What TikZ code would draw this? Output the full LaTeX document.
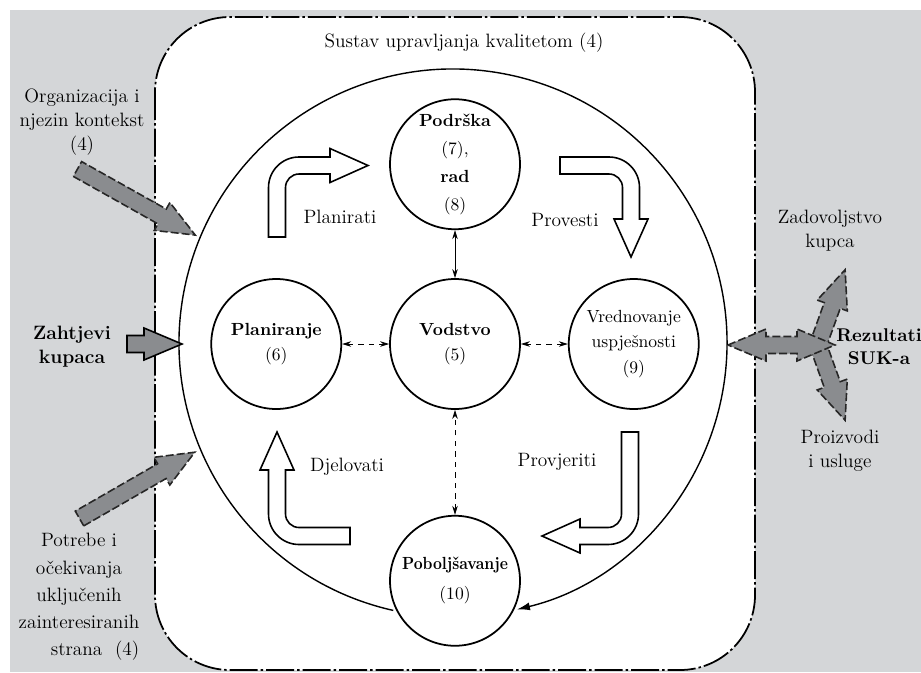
\documentclass[tikz,border=0pt]{standalone}
\usepackage{tikz}
\usetikzlibrary{arrows.meta, positioning}

\definecolor{panelgray}{RGB}{212,214,216}
\definecolor{arrowgray}{RGB}{138,140,143}

\tikzset{
    % hollow bent PDCA arrow: corner at origin, leg #1 from below, leg #2 to the right
    pics/bentarrow/.style 2 args={code={
        \draw[pdca arrow] (-8.5,-#1) -- (-8.5,-22) arc[start angle=180, end angle=90, radius=6.1mm]
            -- ({#2-38},8.5) -- ({#2-38},17) -- (#2,0) -- ({#2-38},-17) -- ({#2-38},-8.5)
            -- (22,-8.5) arc[start angle=90, end angle=180, radius=2.7mm] -- (8.5,-#1) -- cycle;
    }},
    % straight grey input arrow, tail at origin, length #1
    pics/grayarrow/.style={code={
        \draw[pic actions] (0,-8.5) -- ({#1-38},-8.5) -- ({#1-38},-16) -- (#1,0) -- ({#1-38},16)
            -- ({#1-38},8.5) -- (0,8.5) -- cycle;
    }},
    % grey double arrow, left tip at origin, length #1
    pics/twowayarrow/.style={code={
        \draw[pic actions] (0,0) -- (38,16) -- (38,8.5) -- ({#1-38},8.5) -- ({#1-38},16) -- (#1,0)
            -- ({#1-38},-16) -- ({#1-38},-8.5) -- (38,-8.5) -- (38,-16) -- cycle;
    }}
}

\begin{document}
\begin{tikzpicture}[
    x=0.2mm, y=0.2mm,
    every node/.style={font=\fontsize{11}{13.5}\selectfont},
    stage/.style={circle, draw, line width=1pt, fill=white, minimum size=2.6cm, inner sep=0pt, align=center, font=\fontsize{10}{14.5}\selectfont},
    outer/.style={align=center},
    pdca arrow/.style={draw, line width=0.9pt, fill=white},
    inputarrow/.style={draw=black!85, fill=arrowgray, line width=0.9pt, dash pattern=on 1.6mm off 0.6mm},
    link/.style={{Stealth[length=1.8mm,width=1.1mm]}-{Stealth[length=1.8mm,width=1.1mm]}, line width=0.5pt},
    cycleline/.style={-{Latex[length=2.6mm,width=1.6mm]}, line width=0.8pt}
]
    \useasboundingbox (0,0) rectangle (921,-672);
    \fill[panelgray] (10,-10) rectangle (921,-672);

    % QMS box
    \draw[fill=white, line width=1pt, rounded corners=1.5cm, dash pattern=on 5.6mm off 0.6mm on 0.5mm off 0.6mm]
        (155,-17) rectangle (755,-670);
    \node (title) at (464,-43) {Sustav upravljanja kvalitetom (4)};

    % Big loop
    \coordinate (qms) at (453,-343);
    \draw[cycleline] ([shift={(257.4:54.8mm)}]qms) arc[start angle=257.4, end angle=-76.5, radius=54.8mm];

    % Stages
    \node[stage] (vodstvo) at (455,-344) {\textbf{Vodstvo}\\(5)};
    \node[stage, left=9.4mm of vodstvo] (planiranje) {\textbf{Planiranje}\\(6)};
    \node[stage, right=9.4mm of vodstvo] (vrednovanje) {Vrednovanje\\uspješnosti\\(9)};
    \node[stage, above=9.6mm of vodstvo, font=\fontsize{10}{16}\selectfont] (podrska) {\textbf{Podrška}\\(7),\\\textbf{rad}\\(8)};
    \node[stage, below=21mm of vodstvo, font=\fontsize{10}{17}\selectfont] (poboljsavanje) {\scalebox{0.88}[1]{\textbf{Poboljšavanje}}\\(10)};

    \draw[link] (podrska) -- (vodstvo);
    \draw[link, dashed] (planiranje) -- (vodstvo);
    \draw[link, dashed] (vrednovanje) -- (vodstvo);
    \draw[link, dashed] (poboljsavanje) -- (vodstvo);

    % PDCA arrows
    \pic at (277,-165.5) {bentarrow={71.5}{91}};
    \pic[rotate=-90] at (631,-165.5) {bentarrow={71}{91.5}};
    \pic[rotate=180] at (630,-536) {bentarrow={104}{88}};
    \pic[rotate=90] at (277,-536) {bentarrow={73}{104}};

    \node (planirati) at (340,-217) {Planirati};
    \node (provesti) at (565,-220) {Provesti};
    \node (provjeriti) at (557,-462) {Provjeriti};
    \node (djelovati) at (347,-467) {Djelovati};

    % Inputs
    \pic[inputarrow, rotate=-29.3] at (77.5,-169) {grayarrow=135};
    \pic[inputarrow, dash pattern=, draw=black] at (127,-344) {grayarrow=55};
    \pic[inputarrow, rotate=29.9] at (79.5,-518.5) {grayarrow=133};

    \node[outer] (kontekst) at (82,-122) {Organizacija i\\njezin kontekst\\(4)};
    \node[outer, font=\fontsize{11}{13.5}\selectfont\bfseries] (zahtjevi) at (72,-347) {Zahtjevi\\kupaca};
    \node[outer, font=\fontsize{11}{15.5}\selectfont] (potrebe) at (79,-597) {Potrebe i\\očekivanja\\uključenih\\zainteresiranih\\\hfill strana\ \ (4)};

    % Outputs
    \pic[inputarrow, rotate=70.2] at (818,-345) {grayarrow=80};
    \pic[inputarrow, rotate=-70.2] at (818,-345) {grayarrow=80};
    \pic[inputarrow] at (728,-345) {twowayarrow=107};

    \node[outer] (zadovoljstvo) at (830,-231) {Zadovoljstvo\\kupca};
    \node[outer, font=\fontsize{10.5}{13}\selectfont\bfseries, inner sep=1pt] (rezultati) at (879,-347) {Rezultati\\SUK-a};
    \node[outer] (proizvodi) at (840,-451) {Proizvodi\\i usluge};
\end{tikzpicture}
\end{document}
